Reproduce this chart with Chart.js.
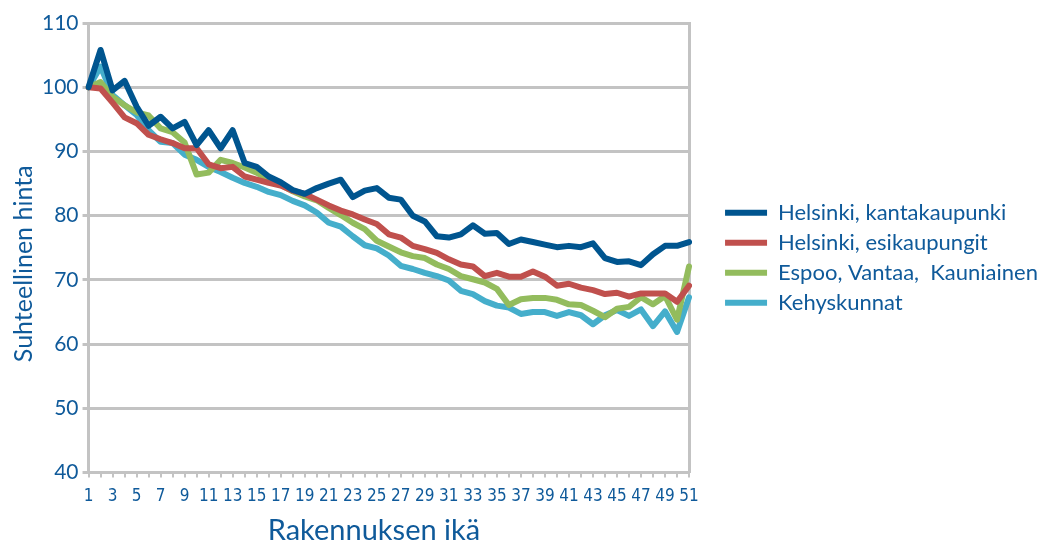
<!DOCTYPE html>
<html>
<head>
<meta charset="utf-8">
<script src="https://cdn.jsdelivr.net/npm/chart.js@4"></script>
<style>
  body { margin: 0; background: #fff; }
  #wrap { width: 1044px; height: 545px; }
</style>
</head>
<body>
<div id="wrap"><canvas id="chart"></canvas></div>
<script>
// Rakennuksen ikä 1..51
const ages = [];
for (let i = 1; i <= 51; i++) ages.push(String(i));

const yTicks = [40, 50, 60, 70, 80, 90, 100, 110];

const seriesNames = [
    "Helsinki, kantakaupunki",
    "Helsinki, esikaupungit",
    "Espoo, Vantaa,  Kauniainen",
    "Kehyskunnat"
];

const kantakaupunki = [100, 105.8, 99.5, 101, 97, 94, 95.4, 93.6, 94.6, 91,
    93.3, 90.5, 93.3, 88.2, 87.6, 86.1, 85.2, 84, 83.4, 84.3,
    85, 85.6, 82.9, 83.9, 84.3, 82.8, 82.5, 80, 79.1, 76.8,
    76.6, 77.1, 78.5, 77.2, 77.3, 75.6, 76.3, 75.9, 75.5, 75.1,
    75.3, 75.1, 75.7, 73.4, 72.8, 72.9, 72.3, 74, 75.3, 75.3, 75.9];

const esikaupungit = [100, 99.8, 97.6, 95.3, 94.4, 92.6, 91.9, 91.3, 90.5, 90.5,
    88, 87.4, 87.6, 86.1, 85.6, 85.1, 84.7, 83.9, 83.4, 82.5,
    81.6, 80.8, 80.2, 79.4, 78.7, 77.1, 76.6, 75.3, 74.8, 74.2,
    73.2, 72.4, 72.1, 70.6, 71.1, 70.5, 70.5, 71.3, 70.5, 69.1,
    69.4, 68.8, 68.4, 67.8, 68, 67.4, 67.9, 67.9, 67.9, 66.6, 69.1];

const espooVantaa = [100, 100.8, 98.5, 97.2, 96.1, 95.6, 93.6, 93, 91.4, 86.4,
    86.7, 88.7, 88.2, 87.5, 86.7, 85.6, 84.8, 83.8, 83, 82.4,
    81.2, 80.1, 78.9, 77.9, 76.1, 75.2, 74.3, 73.7, 73.4, 72.4,
    71.7, 70.6, 70.1, 69.6, 68.6, 66.1, 67, 67.2, 67.2, 66.9,
    66.2, 66.1, 65.2, 64.2, 65.5, 65.8, 67.3, 66.2, 67.5, 63.8, 72.1];

const kehyskunnat = [100, 103.2, 98.8, 97.2, 95.7, 93.3, 91.5, 91.3, 89.5, 88.7,
    87.6, 86.8, 85.9, 85.1, 84.5, 83.7, 83.2, 82.3, 81.6, 80.5,
    78.9, 78.3, 76.8, 75.4, 74.9, 73.8, 72.2, 71.7, 71.1, 70.6,
    69.9, 68.3, 67.8, 66.7, 66, 65.7, 64.7, 65, 65, 64.4,
    65, 64.5, 63.1, 64.5, 65.3, 64.4, 65.4, 62.8, 65.1, 61.9, 67.3];

const colors = ["#00558f", "#c0504d", "#93bc5d", "#45aecb"];
const textColor = "#0f5a9a";
const gridColor = "#c3c3c3";

function makeDataset(name, values, color) {
    return {
        label: name,
        data: values,
        borderColor: color,
        backgroundColor: color,
        borderWidth: 6,
        borderCapStyle: "round",
        borderJoinStyle: "round",
        pointRadius: 0,
        pointStyle: "line",
        tension: 0
    };
}

const ctx = document.getElementById("chart").getContext("2d");
new Chart(ctx, {
    type: "line",
    data: {
        labels: ages,
        datasets: [
            makeDataset(seriesNames[0], kantakaupunki, colors[0]),
            makeDataset(seriesNames[1], esikaupungit, colors[1]),
            makeDataset(seriesNames[2], espooVantaa, colors[2]),
            makeDataset(seriesNames[3], kehyskunnat, colors[3])
        ]
    },
    options: {
        responsive: true,
        maintainAspectRatio: false,
        animation: false,
        layout: { padding: { left: 8, top: 23, right: -4, bottom: 0 } },
        plugins: {
            tooltip: { enabled: false },
            legend: {
                position: "right",
                align: "center",
                fullSize: false,
                maxWidth: 400,
                // empty title only pushes the entries down a little
                title: { display: true, text: " ", font: { size: 10 }, padding: 4 },
                labels: {
                    usePointStyle: true,
                    pointStyleWidth: 42,
                    color: textColor,
                    font: { family: "Lato", size: 22 },
                    padding: 8
                }
            }
        },
        scales: {
            x: {
                offset: false,
                grid: {
                    drawOnChartArea: false,
                    drawTicks: true,
                    tickLength: 5,
                    color: gridColor,
                    lineWidth: 2
                },
                border: { color: gridColor, width: 3 },
                ticks: {
                    autoSkip: false,
                    maxRotation: 0,
                    minRotation: 0,
                    color: textColor,
                    font: { family: "DejaVu Sans Condensed, Liberation Sans", size: 17 },
                    padding: 9,
                    callback: function(value, index) {
                        return index % 2 === 0 ? ages[index] : "";
                    }
                },
                title: {
                    display: true,
                    // trailing spaces nudge the centred title a bit to the left
                    text: "Rakennuksen ikä    ",
                    color: textColor,
                    font: { family: "Lato", size: 29, lineHeight: 1 },
                    padding: { top: 0, bottom: 0 }
                }
            },
            y: {
                min: yTicks[0],
                max: yTicks[yTicks.length - 1],
                afterBuildTicks: function(axis) {
                    axis.ticks = yTicks.map(v => ({ value: v }));
                },
                grid: {
                    color: gridColor,
                    lineWidth: 3,
                    tickLength: 6
                },
                border: { color: gridColor, width: 3 },
                ticks: {
                    color: textColor,
                    font: { family: "Lato", size: 21 },
                    padding: 4
                },
                title: {
                    display: true,
                    text: "Suhteellinen hinta     ",
                    color: textColor,
                    font: { family: "Lato", size: 25, lineHeight: 1.12 },
                    padding: { top: 2, bottom: 0 }
                }
            },
            yRight: {
                position: "right",
                min: yTicks[0],
                max: yTicks[yTicks.length - 1],
                grid: { display: false },
                ticks: { display: false },
                border: { color: gridColor, width: 3 },
                afterFit: function(axis) {
                    axis.width = 28;
                }
            }
        }
    }
});
</script>
</body>
</html>
